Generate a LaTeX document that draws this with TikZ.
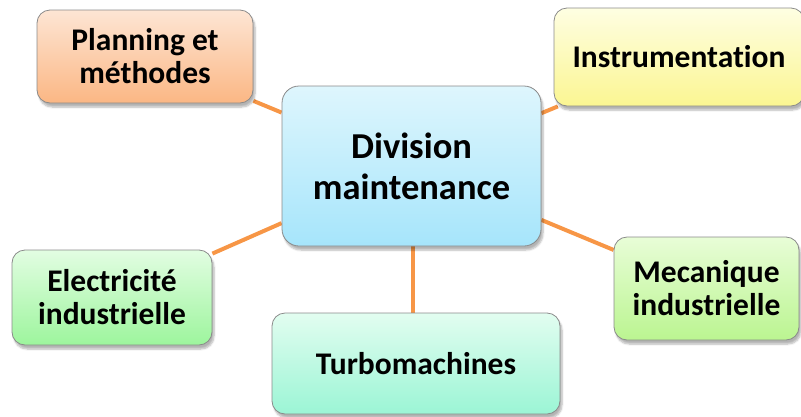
\documentclass[tikz,border=0pt]{standalone}
\usepackage{fontspec}
\setmainfont{Carlito}[Ligatures=NoCommon]
\usetikzlibrary{shadows.blur,backgrounds}
\definecolor{lineor}{HTML}{F79646}
\definecolor{bord}{HTML}{8A8A8A}
\tikzset{
  box/.style={draw=bord, line width=0.8pt, rounded corners=13pt, align=center,
    inner sep=0pt, text=black,
    font=\fontsize{31.5}{33}\selectfont\bfseries,
    blur shadow={shadow xshift=2pt, shadow yshift=-4pt, shadow blur steps=6, shadow opacity=30}},
  link/.style={draw=lineor, line width=4pt},
}
\begin{document}
\begin{tikzpicture}[x=1pt,y=-1pt]
\useasboundingbox (0,0) rectangle (801,416);
\node[box, rounded corners=17pt, minimum width=259pt, minimum height=160pt,
  top color={rgb,255:red,222;green,246;blue,253}, bottom color={rgb,255:red,166;green,229;blue,251},
  font=\fontsize{36.5}{41}\selectfont\bfseries] (c) at (411.5,166) {Division\\maintenance};
\node[box, minimum width=216pt, minimum height=93pt,
  top color={rgb,255:red,253;green,229;blue,212}, bottom color={rgb,255:red,251;green,183;blue,132}] (p) at (145,56.5) {Planning et\\méthodes};
\node[box, minimum width=250pt, minimum height=98pt,
  top color={rgb,255:red,254;green,254;blue,226}, bottom color={rgb,255:red,251;green,246;blue,146}] (i) at (679,57) {Instrumentation};
\node[box, minimum width=200pt, minimum height=95pt,
  top color={rgb,255:red,226;green,253;blue,226}, bottom color={rgb,255:red,157;green,245;blue,157}] (e) at (112,297.5) {Electricité\\industrielle};
\node[box, minimum width=288pt, minimum height=101pt,
  top color={rgb,255:red,226;green,253;blue,240}, bottom color={rgb,255:red,155;green,245;blue,213}] (t) at (416,363.5) {Turbomachines};
\node[box, minimum width=185pt, minimum height=103pt,
  top color={rgb,255:red,232;green,253;blue,215}, bottom color={rgb,255:red,187;green,245;blue,145}] (m) at (706.5,288.5) {Mecanique\\industrielle};
\begin{scope}[on background layer]
\draw[link] (c) -- (p);
\draw[link] (c) -- (i);
\draw[link] (c) -- (e);
\draw[link] (c.center) ++(1.5,0) coordinate (cb) -- (cb |- t.center);
\draw[link] (c) -- (m);
\end{scope}
\end{tikzpicture}
\end{document}
